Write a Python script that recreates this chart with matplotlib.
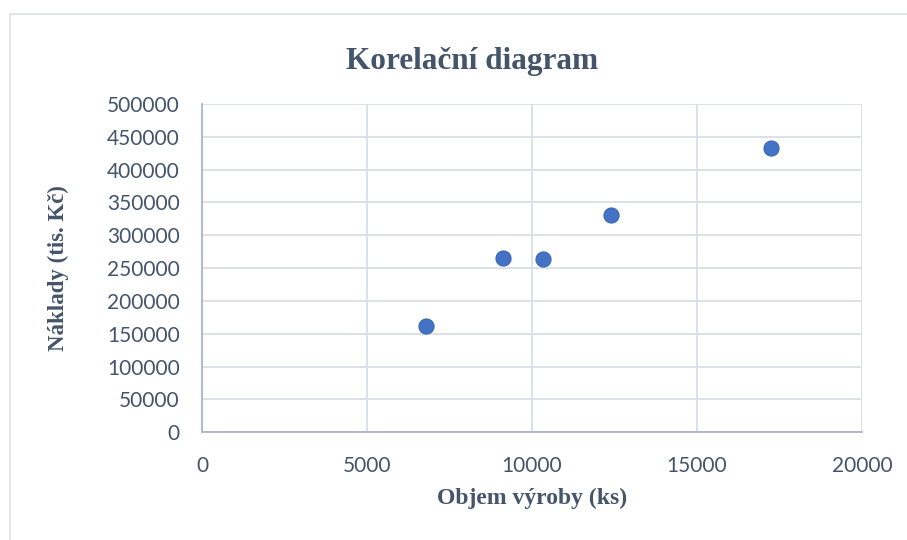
import matplotlib.pyplot as plt
from matplotlib.patches import Rectangle

objem = [6800, 9120, 10340, 12400, 17230]
naklady = [162500, 266000, 263500, 331000, 432500]
x_ticks = [0, 5000, 10000, 15000, 20000]
y_ticks = [0, 50000, 100000, 150000, 200000, 250000, 300000, 350000, 400000, 450000, 500000]

text_col = "#44546A"
grid_col = "#D9DEE6"

fig = plt.figure(figsize=(9.07, 5.40), dpi=100)
# light outer frame of the chart area
fig.patches.append(Rectangle((10 / 907, -0.1), 1.2, (540 - 14) / 540 + 0.1,
                             transform=fig.transFigure, fill=False,
                             edgecolor="#E3E6EB", linewidth=1.5))

ax = fig.add_axes([202 / 907, (540 - 432.2) / 540, 660 / 907, 328.2 / 540])
ax.scatter(objem, naklady, s=118, color="#4472C4", edgecolors="#3A66B5",
           linewidths=0.8, zorder=3)

ax.set_xlim(0, 20000)
ax.set_ylim(0, 500000)
ax.set_xticks(x_ticks)
ax.set_yticks(y_ticks)
ax.grid(True, color=grid_col, linewidth=1.3)
ax.set_axisbelow(True)
for s in ["top", "right"]:
    ax.spines[s].set_visible(False)
for s in ["left", "bottom"]:
    ax.spines[s].set_color("#ABB5C5")
    ax.spines[s].set_linewidth(1.3)
ax.tick_params(length=0, labelsize=15, labelcolor=text_col)
ax.tick_params(axis="x", pad=17)
ax.tick_params(axis="y", pad=16)
for lab in ax.get_xticklabels() + ax.get_yticklabels():
    lab.set_family("Lato")

fig.text(472 / 907, 1 - 62 / 540, "Korelační diagram", ha="center", va="center",
         fontsize=22.5, fontweight="bold", family="Liberation Serif", color=text_col)
fig.text(532 / 907, 1 - 498 / 540, "Objem výroby (ks)", ha="center", va="center",
         fontsize=17, fontweight="bold", family="Liberation Serif", color=text_col)
fig.text(58.5 / 907, 1 - 268.5 / 540, "Náklady (tis. Kč)", ha="center", va="center",
         rotation=90, fontsize=16.5, fontweight="bold", family="Liberation Serif",
         color=text_col)

fig.savefig("out.png", dpi=100)
